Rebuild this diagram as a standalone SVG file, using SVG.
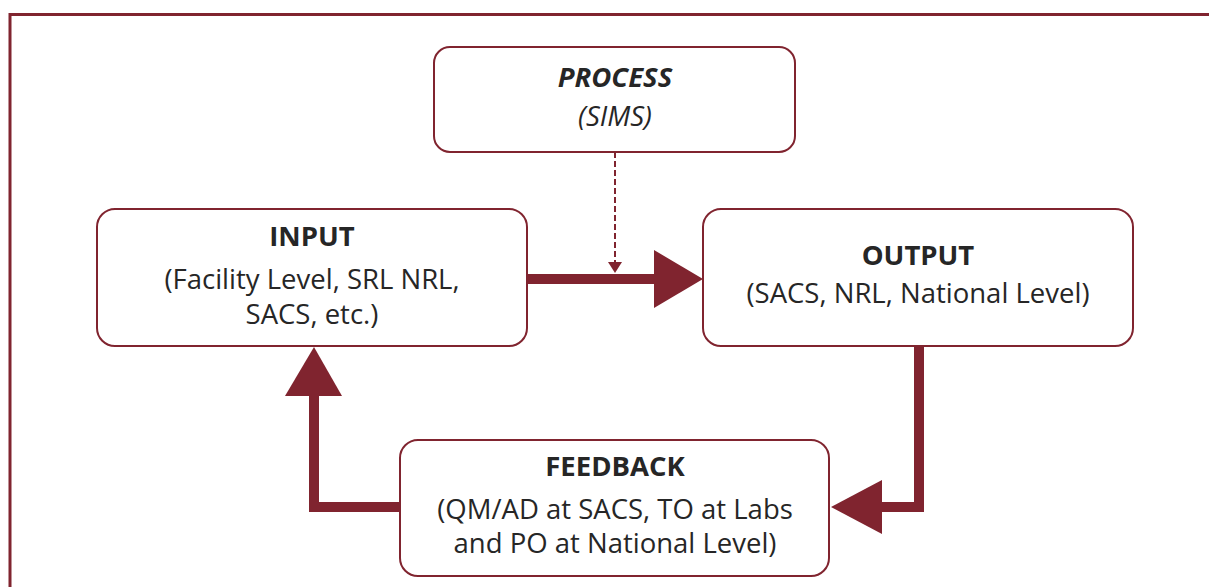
<svg xmlns="http://www.w3.org/2000/svg" width="1209" height="587" viewBox="0 0 1209 587">
<style>
.box{fill:#fff;stroke:#80242F;stroke-width:2}
.t{font-family:"Open Sans","Noto Sans","Liberation Sans",sans-serif;font-size:27.5px;fill:#262626;text-anchor:middle}
.b{font-weight:bold}
.i{font-style:italic}
.thick{fill:none;stroke:#80242F;stroke-width:10}
.head{fill:#80242F}
</style>
<rect x="10" y="14.5" width="1220" height="600" fill="none" stroke="#80242F" stroke-width="3"/>
<g id="connectors">
<path class="thick" d="M527,279 H656"/>
<path class="head" d="M654,250 L703,279 L654,308 Z"/>
<path d="M615,152 V262" fill="none" stroke="#80242F" stroke-width="2" stroke-dasharray="6,3"/>
<path class="head" d="M608,262 L622,262 L615,273 Z"/>
<path class="thick" d="M919,346 V507 H880"/>
<path class="head" d="M882,480 L831,507 L882,534 Z"/>
<path class="thick" d="M400,507 H314 V394"/>
<path class="head" d="M285,396 L314,347 L342,396 Z"/>
</g>
<g id="process">
<rect class="box" x="434" y="47" width="361" height="105" rx="16"/>
<text class="t b i" x="615" y="87">PROCESS</text>
<text class="t i" x="615" y="126">(SIMS)</text>
</g>
<g id="input">
<rect class="box" x="97" y="209" width="430" height="137" rx="18"/>
<text class="t b" x="312" y="246">INPUT</text>
<text class="t" x="312" y="289">(Facility Level, SRL NRL,</text>
<text class="t" x="312" y="324">SACS, etc.)</text>
</g>
<g id="output">
<rect class="box" x="703" y="209" width="430" height="137" rx="18"/>
<text class="t b" x="918" y="265">OUTPUT</text>
<text class="t" x="918" y="303">(SACS, NRL, National Level)</text>
</g>
<g id="feedback">
<rect class="box" x="400" y="440" width="429" height="136" rx="18"/>
<text class="t b" x="615" y="476">FEEDBACK</text>
<text class="t" x="615" y="519">(QM/AD at SACS, TO at Labs</text>
<text class="t" x="615" y="553">and PO at National Level)</text>
</g>
</svg>
